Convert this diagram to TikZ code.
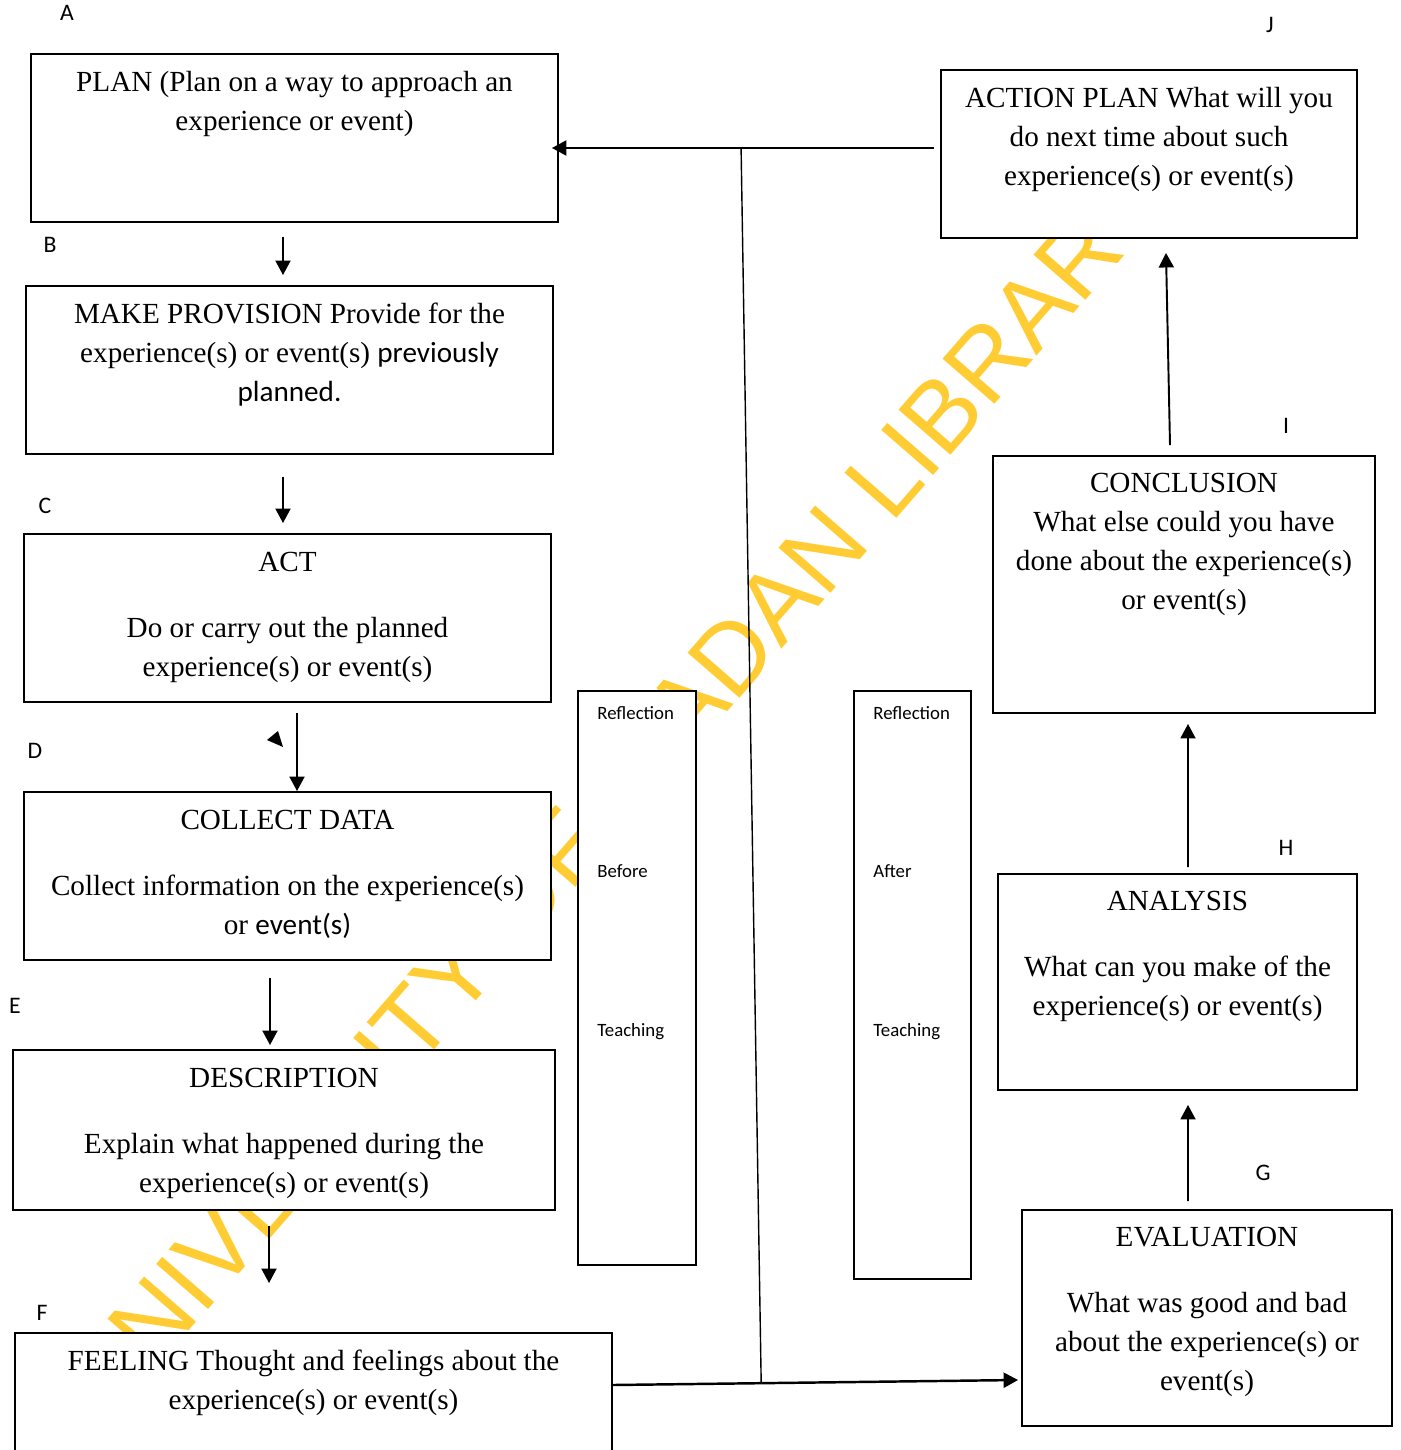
\documentclass[tikz,border=0pt]{standalone}
\usepackage{fontspec}
\setmainfont{Liberation Serif}
\newfontfamily\calibri{Carlito}
\newfontfamily\wmfont{Liberation Sans}
\usetikzlibrary{arrows.meta, calc}
\definecolor{WMYellow}{HTML}{FFCC33}

\tikzset{
  stage/.style={draw=black, line width=1.1pt, fill=white, inner sep=0pt},
  stagetext/.style={anchor=north, inner sep=0pt, align=center, font=\fontsize{16.6}{22.2}\selectfont},
  tag/.style={font=\calibri\fontsize{13.5}{16}\selectfont, inner sep=0pt},
  sidetext/.style={anchor=base west, inner sep=0pt, font=\calibri\fontsize{10.7}{13}\selectfont},
  flow/.style={-{Triangle[length=0.29cm, width=0.3cm]}, line width=1.1pt},
}

\begin{document}
\begin{tikzpicture}[x=0.02cm, y=-0.02cm]
    \useasboundingbox (0,0) rectangle (1400,1450);

    % Watermark
    \node[font=\wmfont\fontsize{56.9}{62}\selectfont, text=WMYellow, rotate=49, anchor=base] (watermark) at (639,814) {UNIVERSITY OF IBADAN LIBRARY};

    % Left column
    \node[stage, minimum width=10.54cm, minimum height=3.36cm] (plan) at (294.5,138) {};
    \node[stage, minimum width=10.54cm, minimum height=3.36cm] (provision) at (289.5,370) {};
    \node[stage, minimum width=10.54cm, minimum height=3.36cm] (act) at (287.5,618) {};
    \node[stage, minimum width=10.54cm, minimum height=3.36cm] (collect) at (287.5,876) {};
    \node[stage, minimum width=10.84cm, minimum height=3.20cm] (description) at (284,1130) {};
    \node[stage, minimum width=11.94cm, minimum height=2.80cm] (feeling) at (313.5,1403) {};

    % Right column
    \node[stage, minimum width=8.32cm, minimum height=3.36cm] (actionplan) at (1149,154) {};
    \node[stage, minimum width=7.64cm, minimum height=5.14cm] (conclusion) at (1184,584.5) {};
    \node[stage, minimum width=7.18cm, minimum height=4.32cm] (analysis) at (1177.5,982) {};
    \node[stage, minimum width=7.40cm, minimum height=4.32cm] (evaluation) at (1207,1318) {};

    % Reflection columns
    \node[stage, minimum width=2.36cm, minimum height=11.48cm] (reflbefore) at (637,978) {};
    \node[stage, minimum width=2.34cm, minimum height=11.76cm] (reflafter) at (912.5,985) {};

    % Box texts
    \node[stagetext] (plantext) at ($(plan.north)+(0,10.5)$) {\strut PLAN (Plan on a way to approach an\\ experience or event)};
    \node[stagetext] (provisiontext) at ($(provision.north)+(0,10.5)$) {\strut MAKE PROVISION Provide for the\\ experience(s) or event(s) {\calibri previously}\\ {\calibri planned.}};
    \node[stagetext] (acttext) at ($(act.north)+(0,10.5)$) {\strut ACT\\[15.4pt] Do or carry out the planned\\ experience(s) or event(s)};
    \node[stagetext] (collecttext) at ($(collect.north)+(0,10.5)$) {\strut COLLECT DATA\\[15.4pt] Collect information on the experience(s)\\ or {\calibri event(s)}};
    \node[stagetext] (descriptiontext) at ($(description.north)+(0,10.5)$) {\strut DESCRIPTION\\[15.4pt] Explain what happened during the\\ experience(s) or event(s)};
    \node[stagetext] (feelingtext) at ($(feeling.north)+(0,10.5)$) {\strut FEELING Thought and feelings about the\\ experience(s) or event(s)};
    \node[stagetext] (actionplantext) at ($(actionplan.north)+(0,10.5)$) {\strut ACTION PLAN What will you\\ do next time about such\\ experience(s) or event(s)};
    \node[stagetext] (conclusiontext) at ($(conclusion.north)+(0,9.5)$) {\strut CONCLUSION\\ What else could you have\\ done about the experience(s)\\ or event(s)};
    \node[stagetext] (analysistext) at ($(analysis.north)+(0,9.5)$) {\strut ANALYSIS\\[15.4pt] What can you make of the\\ experience(s) or event(s)};
    \node[stagetext] (evaluationtext) at ($(evaluation.north)+(0,9.5)$) {\strut EVALUATION\\[15.4pt] What was good and bad\\ about the experience(s) or\\ event(s)};

    \node[sidetext] (bfirst) at ($(reflbefore.north west)+(20,29)$) {Reflection};
    \node[sidetext] (bsecond) at ($(reflbefore.north west)+(20,187)$) {Before};
    \node[sidetext] (bthird) at ($(reflbefore.north west)+(20,346)$) {Teaching};
    \node[sidetext] (afirst) at ($(reflafter.north west)+(20,29)$) {Reflection};
    \node[sidetext] (asecond) at ($(reflafter.north west)+(20,187)$) {After};
    \node[sidetext] (athird) at ($(reflafter.north west)+(20,346)$) {Teaching};

    % Letters
    \node[tag] (lblA) at (67,13) {A};
    \node[tag] (lblB) at (50,245) {B};
    \node[tag] (lblC) at (45,506) {C};
    \node[tag] (lblD) at (35,751) {D};
    \node[tag] (lblE) at (15,1006) {E};
    \node[tag] (lblF) at (42,1313) {F};
    \node[tag] (lblG) at (1263,1173) {G};
    \node[tag] (lblH) at (1286,848) {H};
    \node[tag] (lblI) at (1286,426) {I};
    \node[tag] (lblJ) at (1270,25) {J};

    % Downward flow
    \draw[flow] ($(plan.south)+(-11.5,14)$) -- ($(provision.north)+(-6.5,-10)$);
    \draw[flow] ($(provision.south)+(-6.5,22)$) -- ($(act.north)+(-4.5,-10)$);
    \draw[flow] ($(act.south)+(9.5,10)$) -- ($(collect.north)+(9.5,0)$);
    \fill (267,740) -- (278,731) -- (283,747) -- cycle;
    \draw[flow] ($(collect.south)+(-17.5,17)$) -- ($(description.north)+(-14,-4)$);
    \draw[flow] ($(description.south)+(-15,15)$) -- ($(feeling.north)+(-44.5,-49)$);

    % Upward flow
    \draw[flow, line width=1.4pt] ($(feeling.east)+(0,-18)$) -- coordinate[pos=0.366] (lowjoin) ($(evaluation.west)+(-3,62)$);
    \draw[flow] ($(evaluation.north)+(-19,-8)$) -- ($(analysis.south)+(10.5,14)$);
    \draw[flow] ($(analysis.north)+(10.5,-6)$) -- ($(conclusion.south)+(4,10)$);
    \draw[flow] ($(conclusion.north)+(-14,-10)$) -- ($(actionplan.south)+(17,14)$);
    \draw[flow, line width=1.3pt] ($(actionplan.west)+(-6,-6)$) -- coordinate[pos=0.505] (topjoin) ($(plan.east)+(-7,10)$);
    \draw[line width=0.8pt] (topjoin) -- (lowjoin);
\end{tikzpicture}
\end{document}
